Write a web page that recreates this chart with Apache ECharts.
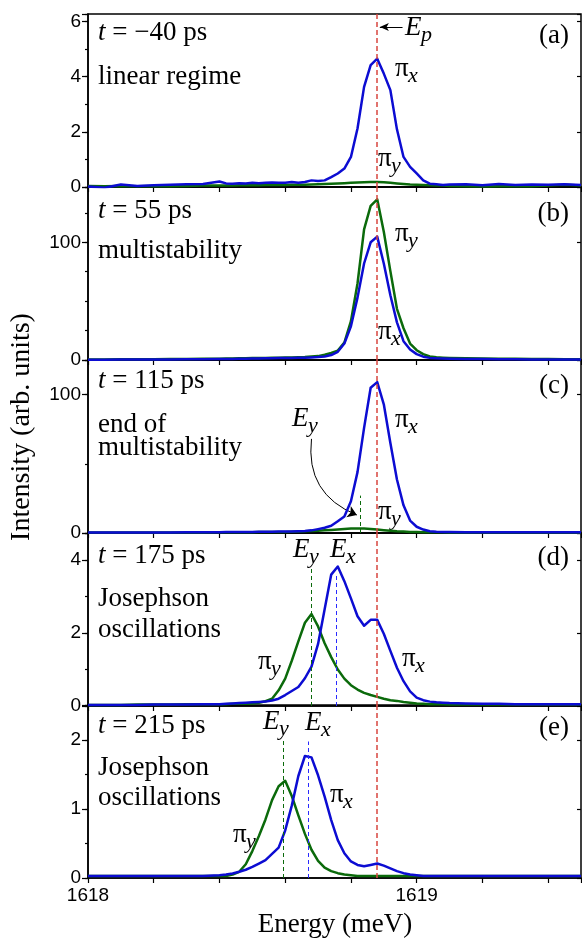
<!DOCTYPE html>
<html>
<head>
<meta charset="utf-8">
<script src="https://cdn.jsdelivr.net/npm/echarts@6/dist/echarts.min.js"></script>
<style>
  html, body { margin: 0; padding: 0; background: #fff; }
  #chart { width: 582px; height: 939px; }
</style>
</head>
<body>
<div id="chart"></div>
<script>
// energy grid (meV), coarse in the tails, finer around the peaks
const energy = [
  1618.00, 1618.05, 1618.10, 1618.15, 1618.20, 1618.25, 1618.30, 1618.35,
  1618.40, 1618.42, 1618.44, 1618.46, 1618.48, 1618.50, 1618.52, 1618.54, 1618.56, 1618.58,
  1618.60, 1618.62, 1618.64, 1618.66, 1618.68, 1618.70, 1618.72, 1618.74, 1618.76, 1618.78,
  1618.80, 1618.82, 1618.84, 1618.86, 1618.88, 1618.90, 1618.92, 1618.94, 1618.96, 1618.98,
  1619.00, 1619.02, 1619.04, 1619.06, 1619.08, 1619.10,
  1619.15, 1619.20, 1619.25, 1619.30, 1619.35, 1619.40, 1619.45, 1619.50
]

// (a) t = -40 ps
const piXa = [
  0.02, -0.03, 0.09, 0.04, 0.06, 0.08, 0.10, 0.11,
  0.20, 0.13, 0.12, 0.14, 0.13, 0.15, 0.14, 0.15, 0.16, 0.15,
  0.15, 0.18, 0.15, 0.18, 0.24, 0.22, 0.24, 0.36, 0.49, 0.67,
  1.09, 2.12, 3.63, 4.42, 4.65, 4.11, 3.51, 2.09, 1.09, 0.73,
  0.49, 0.24, 0.12, 0.10, 0.07, 0.09,
  0.10, 0.06, 0.11, 0.07, 0.09, 0.08, 0.10, 0.07
]
const piYa = [
  0.04, 0.03, 0.04, 0.03, 0.04, 0.03, 0.04, 0.05,
  0.05, 0.05, 0.05, 0.06, 0.06, 0.06, 0.06, 0.07, 0.07, 0.07,
  0.07, 0.08, 0.08, 0.08, 0.09, 0.10, 0.11, 0.12, 0.13, 0.14,
  0.15, 0.16, 0.17, 0.18, 0.18, 0.17, 0.15, 0.13, 0.11, 0.09,
  0.08, 0.07, 0.06, 0.05, 0.05, 0.04,
  0.03, 0.02, 0.03, 0.04, 0.03, 0.05, 0.08, 0.05
]

// (b) t = 55 ps
const piXb = [
  0.3, 0.3, 0.35, 0.4, 0.45, 0.5, 0.6, 0.7,
  0.8, 0.85, 0.9, 1.0, 1.1, 1.2, 1.3, 1.4, 1.5, 1.6,
  1.7, 1.8, 1.9, 2.0, 2.2, 2.5, 3.0, 4.2, 7, 14,
  28.6, 53, 82, 100, 104.8, 82, 55, 32, 16, 9,
  5, 2.8, 1.8, 1.4, 1.2, 1.1,
  0.9, 0.8, 0.7, 0.6, 0.5, 0.5, 0.4, 0.4
]
const piYb = [
  0.5, 0.5, 0.6, 0.6, 0.7, 0.8, 0.9, 1.0,
  1.1, 1.2, 1.3, 1.4, 1.5, 1.6, 1.7, 1.8, 1.9, 2.0,
  2.1, 2.2, 2.4, 2.6, 3.0, 3.3, 4.5, 6, 8, 14.8,
  33, 65, 111, 131, 136.5, 109, 75.5, 43.5, 27, 14,
  8.3, 5, 3, 2.3, 2.0, 1.8,
  1.5, 1.3, 1.1, 1.0, 0.9, 0.8, 0.7, 0.6
]

// (c) t = 115 ps
const piXc = [
  0.3, 0.3, 0.35, 0.4, 0.4, 0.45, 0.5, 0.55,
  0.6, 0.65, 0.7, 0.7, 0.75, 0.8, 0.85, 0.9, 0.95, 1.0,
  1.0, 1.1, 1.3, 1.5, 1.9, 2.8, 3.8, 5.2, 8.5, 12,
  23, 44, 76, 105, 109, 93, 65, 38.7, 20, 9,
  4.5, 2.5, 1.3, 0.9, 0.8, 0.7,
  0.6, 0.6, 0.5, 0.5, 0.5, 0.5, 0.5, 0.5
]
const piYc = [
  0.3, 0.3, 0.3, 0.35, 0.35, 0.4, 0.4, 0.45,
  0.5, 0.5, 0.55, 0.55, 0.6, 0.6, 0.65, 0.7, 0.7, 0.75,
  0.8, 0.9, 1.0, 1.2, 1.4, 1.6, 1.9, 2.2, 2.6, 2.9,
  3.2, 3.3, 3.2, 2.9, 2.5, 2.0, 1.6, 1.2, 1.0, 0.8,
  0.7, 0.6, 0.55, 0.5, 0.5, 0.45,
  0.4, 0.4, 0.4, 0.35, 0.35, 0.3, 0.3, 0.3
]

// (d) t = 175 ps
const piXd = [
  0.03, 0.03, 0.03, 0.03, 0.04, 0.04, 0.04, 0.05,
  0.05, 0.06, 0.07, 0.08, 0.09, 0.10, 0.11, 0.12, 0.15, 0.20,
  0.30, 0.41, 0.52, 0.76, 1.08, 1.70, 2.65, 3.60, 3.82, 3.42,
  2.95, 2.46, 2.20, 2.36, 2.36, 1.98, 1.51, 1.05, 0.68, 0.40,
  0.23, 0.16, 0.12, 0.10, 0.09, 0.08,
  0.07, 0.06, 0.06, 0.05, 0.05, 0.05, 0.05, 0.05
]
const piYd = [
  0.03, 0.03, 0.03, 0.04, 0.04, 0.04, 0.05, 0.05,
  0.05, 0.05, 0.06, 0.06, 0.06, 0.07, 0.09, 0.13, 0.20, 0.43,
  0.75, 1.24, 1.77, 2.28, 2.52, 2.18, 1.72, 1.34, 1.00, 0.75,
  0.57, 0.45, 0.36, 0.30, 0.25, 0.20, 0.16, 0.14, 0.11, 0.09,
  0.07, 0.06, 0.05, 0.05, 0.05, 0.04,
  0.04, 0.04, 0.04, 0.04, 0.04, 0.04, 0.04, 0.04
]

// (e) t = 215 ps
const piXe = [
  0.03, 0.03, 0.03, 0.03, 0.03, 0.03, 0.03, 0.03,
  0.04, 0.05, 0.065, 0.09, 0.12, 0.16, 0.21, 0.26, 0.35, 0.44,
  0.69, 1.05, 1.48, 1.77, 1.75, 1.49, 1.18, 0.84, 0.55, 0.36,
  0.24, 0.19, 0.17, 0.19, 0.21, 0.18, 0.14, 0.10, 0.07, 0.05,
  0.04, 0.03, 0.03, 0.03, 0.03, 0.03,
  0.03, 0.03, 0.03, 0.03, 0.03, 0.03, 0.03, 0.03
]
const piYe = [
  0.03, 0.03, 0.03, 0.03, 0.03, 0.03, 0.03, 0.03,
  0.03, 0.03, 0.05, 0.09, 0.20, 0.39, 0.61, 0.85, 1.13, 1.33,
  1.41, 1.19, 0.91, 0.64, 0.41, 0.25, 0.15, 0.10, 0.07, 0.05,
  0.04, 0.03, 0.03, 0.03, 0.03, 0.03, 0.03, 0.03, 0.03, 0.03,
  0.03, 0.03, 0.03, 0.03, 0.03, 0.03,
  0.03, 0.03, 0.03, 0.03, 0.03, 0.03, 0.03, 0.03
]

// axis ranges and ticks per panel
const yMax = [6.27, 147, 125, 4.74, 2.51]
const majorStep = [2, 100, 100, 2, 1]
const minorStep = [1, 25, 50, 1, 0.5]

// pump energy and the E_x / E_y markers: [energy, height]
const ePump = 1618.875
const eyMarks = [null, null, [1618.827, 27], [1618.678, 3.76], [1618.594, 2.0]]
const exMarks = [null, null, null, [1618.754, 3.63], [1618.670, 1.98]]

const piX = [piXa, piXb, piXc, piXd, piXe]
const piY = [piYa, piYb, piYc, piYd, piYe]

const BLUE = '#0c0cd2'
const GREEN = '#0b6a0b'
const RED = '#d8453f'
const SERIF = '"Liberation Serif", "Times New Roman", serif'
const SANS = '"Liberation Sans", Arial, sans-serif'

const tops = [14, 187, 360, 533, 705]
const plotH = 173

const isStep = (v, s) => Math.abs(v / s - Math.round(v / s)) < 1e-6

const grid = [], xAxis = [], yAxis = [], series = []

tops.forEach((top, i) => {
  grid.push({
    left: 88, top: top, width: 493, height: plotH,
    show: true, borderColor: '#000', borderWidth: 1.5,
    outerBoundsMode: 'none'
  })
  xAxis.push({
    gridIndex: i, type: 'value', min: 1618, max: 1619.5, interval: 0.2,
    axisLine: { lineStyle: { color: '#000', width: 1.5 } },
    axisTick: { length: 5, lineStyle: { color: '#000', width: 1.2 } },
    axisLabel: {
      show: i === 4, color: '#000', fontSize: 19, fontFamily: SANS, margin: 8,
      formatter: v => isStep(v, 1) ? String(Math.round(v)) : ''
    },
    splitLine: { show: false }
  })
  // minor ticks
  yAxis.push({
    gridIndex: i, type: 'value', position: 'left', min: 0, max: yMax[i], interval: minorStep[i],
    axisLine: { show: true, lineStyle: { color: '#000', width: 1.5 } },
    axisTick: { length: 3, lineStyle: { color: '#000', width: 1.2 } },
    axisLabel: { show: false }, splitLine: { show: false }
  })
  // major ticks + labels
  yAxis.push({
    gridIndex: i, type: 'value', position: 'left', min: 0, max: yMax[i], interval: majorStep[i],
    axisLine: { show: false },
    axisTick: { length: 6, lineStyle: { color: '#000', width: 1.2 } },
    axisLabel: {
      color: '#000', fontSize: 19, fontFamily: SANS, margin: 7,
      formatter: v => isStep(v, majorStep[i]) ? String(Math.round(v)) : ''
    },
    splitLine: { show: false }
  })
  // right side ticks
  yAxis.push({
    gridIndex: i, type: 'value', position: 'right', min: 0, max: yMax[i], interval: majorStep[i],
    axisLine: { show: false },
    axisTick: { inside: true, length: 4, lineStyle: { color: '#000', width: 1.2 } },
    axisLabel: { show: false }, splitLine: { show: false }
  })

  const marks = [{ xAxis: ePump, lineStyle: { color: RED, type: [5, 3], width: 1.5 } }]
  if (eyMarks[i]) {
    marks.push([
      { coord: [eyMarks[i][0], 0], lineStyle: { color: GREEN, type: [4, 3], width: 1 } },
      { coord: [eyMarks[i][0], eyMarks[i][1]] }
    ])
  }
  if (exMarks[i]) {
    marks.push([
      { coord: [exMarks[i][0], 0], lineStyle: { color: '#2a2aff', type: [4, 3], width: 1 } },
      { coord: [exMarks[i][0], exMarks[i][1]] }
    ])
  }
  if (i === 0) {
    // arrow pointing at E_p
    marks.push([
      { coord: [1618.957, 5.8], symbol: 'none', lineStyle: { color: '#000', type: 'solid', width: 1 } },
      { coord: [1618.888, 5.8], symbol: 'arrow', symbolSize: [6, 9] }
    ])
  }

  series.push({
    type: 'line', xAxisIndex: i, yAxisIndex: i * 3,
    data: energy.map((e, k) => [e, piY[i][k]]),
    showSymbol: false, smooth: false,
    lineStyle: { color: GREEN, width: 2.5, join: 'round' }, itemStyle: { color: GREEN },
    silent: true
  })
  series.push({
    type: 'line', xAxisIndex: i, yAxisIndex: i * 3,
    data: energy.map((e, k) => [e, piX[i][k]]),
    showSymbol: false, smooth: false,
    lineStyle: { color: BLUE, width: 2.5, join: 'round' }, itemStyle: { color: BLUE },
    silent: true,
    markLine: {
      silent: true, symbol: ['none', 'none'], label: { show: false },
      animation: false, data: marks
    }
  })
})

// curved arrow in (c) from the E_y label down to the green peak
series.push({
  type: 'lines', coordinateSystem: 'cartesian2d', xAxisIndex: 2, yAxisIndex: 6,
  silent: true, polyline: false,
  symbol: ['arrow', 'none'], symbolSize: 9,
  lineStyle: { color: '#000', width: 1, curveness: 0.38, opacity: 1 },
  data: [{ coords: [[1618.818, 13], [1618.68, 68]] }]
})

// ---- text annotations ----
const FS = 27
const mid = (base, fs) => base - 0.3 * fs

function txt(x, base, str, align) {
  return {
    type: 'text', x: x, y: mid(base, FS), silent: true,
    style: {
      text: str, fill: '#000', font: FS + 'px ' + SERIF,
      align: align || 'left', textAlign: align || 'left',
      verticalAlign: 'middle', textVerticalAlign: 'middle'
    }
  }
}

// "t = ... ps" with italic t
function timeLabel(x, base, rest) {
  return {
    type: 'text', x: x, y: mid(base, FS), silent: true,
    style: {
      text: '{i|t}' + rest, fill: '#000', font: FS + 'px ' + SERIF,
      align: 'left', textAlign: 'left', verticalAlign: 'middle', textVerticalAlign: 'middle',
      rich: { i: { fontStyle: 'italic', fontSize: FS, fontFamily: SERIF, fill: '#000' } }
    }
  }
}

// symbol with subscript, e.g. pi_x or E_y
function sym(x, base, main, sub, italic) {
  const w = main === 'π' ? 13 : 16
  return [
    {
      type: 'text', x: x, y: mid(base, FS), silent: true,
      style: { text: main, fill: '#000', font: (italic ? 'italic ' : '') + FS + 'px ' + SERIF,
        align: 'left', textAlign: 'left', verticalAlign: 'middle', textVerticalAlign: 'middle' }
    },
    {
      type: 'text', x: x + w, y: mid(base + 6, 22), silent: true,
      style: { text: sub, fill: '#000', font: 'italic 22px ' + SERIF,
        align: 'left', textAlign: 'left', verticalAlign: 'middle', textVerticalAlign: 'middle' }
    }
  ]
}

const graphic = [
  // (a)
  timeLabel(98, 41, ' = −40 ps'),
  txt(98, 85, 'linear regime'),
  txt(569, 44, '(a)', 'right'),
  ...sym(395, 77, 'π', 'x'),
  ...sym(378, 167, 'π', 'y'),
  ...sym(405, 36, 'E', 'p', true),
  // (b)
  timeLabel(98, 219, ' = 55 ps'),
  txt(98, 259, 'multistability'),
  txt(569, 222, '(b)', 'right'),
  ...sym(395, 242, 'π', 'y'),
  ...sym(378, 340, 'π', 'x'),
  // (c)
  timeLabel(98, 389, ' = 115 ps'),
  txt(98, 433, 'end of'),
  txt(98, 456, 'multistability'),
  txt(569, 394, '(c)', 'right'),
  ...sym(292, 427, 'E', 'y', true),
  ...sym(395, 428, 'π', 'x'),
  ...sym(378, 520, 'π', 'y'),
  // (d)
  timeLabel(98, 564, ' = 175 ps'),
  txt(98, 607, 'Josephson'),
  txt(98, 638, 'oscillations'),
  txt(569, 566, '(d)', 'right'),
  ...sym(293, 558, 'E', 'y', true),
  ...sym(330, 558, 'E', 'x', true),
  ...sym(402, 667, 'π', 'x'),
  ...sym(258, 670, 'π', 'y'),
  // (e)
  timeLabel(98, 734, ' = 215 ps'),
  txt(98, 776, 'Josephson'),
  txt(98, 806, 'oscillations'),
  txt(569, 736, '(e)', 'right'),
  ...sym(263, 730, 'E', 'y', true),
  ...sym(305, 731, 'E', 'x', true),
  ...sym(330, 803, 'π', 'x'),
  ...sym(233, 843, 'π', 'y'),
  // axis names
  {
    type: 'text', x: 335, y: mid(933, FS), silent: true,
    style: { text: 'Energy (meV)', fill: '#000', font: FS + 'px ' + SERIF,
      align: 'center', textAlign: 'center', verticalAlign: 'middle', textVerticalAlign: 'middle' }
  },
  {
    type: 'text', x: 22, y: 427, rotation: Math.PI / 2, silent: true,
    style: { text: 'Intensity (arb. units)', fill: '#000', font: '28px ' + SERIF,
      align: 'center', textAlign: 'center', verticalAlign: 'middle', textVerticalAlign: 'middle' }
  }
]

const chart = echarts.init(document.getElementById('chart'), null, { renderer: 'canvas' })
chart.setOption({
  animation: false,
  backgroundColor: '#fff',
  grid, xAxis, yAxis, series, graphic
})
window.addEventListener('resize', () => chart.resize())
</script>
</body>
</html>
